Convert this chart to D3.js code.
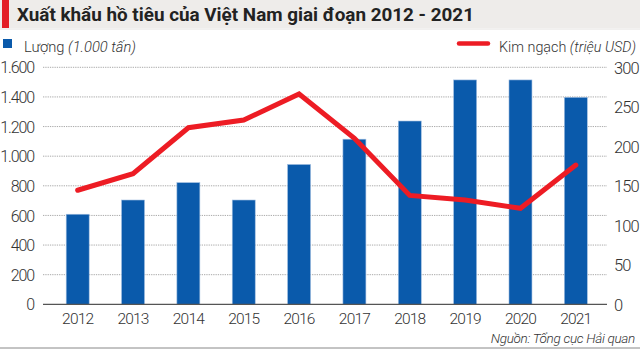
<!DOCTYPE html>
<html>
<head>
<meta charset="utf-8">
<script src="https://cdn.jsdelivr.net/npm/d3@7/dist/d3.min.js"></script>
<style>
  html, body { margin: 0; padding: 0; background: #fff; }
  svg { display: block; }
  text { font-family: Roboto, "Liberation Sans", sans-serif; }
</style>
</head>
<body>
<svg id="chart" width="640" height="349"></svg>
<script>
// Pepper exports of Vietnam, 2012–2021
const years = ["2012","2013","2014","2015","2016","2017","2018","2019","2020","2021"];
// volume, thousand tonnes (bars, right axis)
const volume = [114, 132, 154, 132, 177, 209, 232, 284, 284, 262];
// export value, million USD (line, left axis)
const value = [770, 882, 1192, 1244, 1420, 1121, 735, 704, 648, 940];
const leftTicks = [0, 200, 400, 600, 800, 1000, 1200, 1400, 1600];
const rightTicks = [0, 50, 100, 150, 200, 250, 300];

const svg = d3.select("#chart");
const fmt = d => d3.format(",")(d).replace(/,/g, ".");

const gridLeft = 43, gridRight = 607;
const x = d3.scaleBand().domain(years).range([50, 603.5]).paddingInner(0.585).paddingOuter(0.2925);
const yL = d3.scaleLinear().domain([0, 1600]).range([304.3, 67.3]);
const yR = d3.scaleLinear().domain([0, 300]).range([304.3, 67.3]);

// title band
svg.append("rect").attr("x", 0).attr("y", 0).attr("width", 640).attr("height", 28).attr("fill", "#eeecea");
svg.append("rect").attr("x", 2).attr("y", 0).attr("width", 7).attr("height", 28).attr("fill", "#e31e26");
svg.append("line").attr("x1", 0).attr("x2", 640).attr("y1", 29).attr("y2", 29).attr("stroke", "#e4e2e0").attr("stroke-width", 1);
svg.append("text").attr("x", 17).attr("y", 20.5)
  .attr("font-size", 18.5).attr("font-weight", 700).attr("fill", "#222")
  .attr("textLength", 457).attr("lengthAdjust", "spacingAndGlyphs")
  .text("Xuất khẩu hồ tiêu của Việt Nam giai đoạn 2012 - 2021");

// legend
svg.append("rect").attr("x", 3).attr("y", 39).attr("width", 9).attr("height", 9).attr("fill", "#0a5aab");
const l1 = svg.append("text").attr("x", 24).attr("y", 51.5).attr("font-size", 15).attr("font-weight", 300).attr("fill", "#333")
  .attr("textLength", 112).attr("lengthAdjust", "spacingAndGlyphs");
l1.append("tspan").text("Lượng ");
l1.append("tspan").attr("font-style", "italic").text("(1.000 tấn)");

svg.append("line").attr("x1", 459).attr("x2", 488).attr("y1", 43.5).attr("y2", 43.5)
  .attr("stroke", "#ed1c24").attr("stroke-width", 4.5).attr("stroke-linecap", "round");
const l2 = svg.append("text").attr("x", 499).attr("y", 51.5).attr("font-size", 15).attr("font-weight", 300).attr("fill", "#333")
  .attr("textLength", 137).attr("lengthAdjust", "spacingAndGlyphs");
l2.append("tspan").text("Kim ngạch ");
l2.append("tspan").attr("font-style", "italic").text("(triệu USD)");

// gridlines
svg.append("g").selectAll("line").data(leftTicks.filter(d => d > 0)).join("line")
  .attr("x1", gridLeft).attr("x2", gridRight)
  .attr("y1", d => yL(d)).attr("y2", d => yL(d))
  .attr("stroke", "#aaa").attr("stroke-width", 1).attr("stroke-dasharray", "1.3,1");

// left axis
const axL = svg.append("g").attr("transform", `translate(${gridLeft},0)`)
  .call(d3.axisLeft(yL).tickValues(leftTicks).tickFormat(fmt).tickSize(0).tickPadding(9));
axL.select(".domain").remove();
axL.selectAll("text").attr("font-size", 16).attr("font-weight", 300).attr("fill", "#333")
  .attr("letter-spacing", -1.1).attr("font-family", "Roboto, sans-serif").attr("dy", "0.35em");

// right axis
const axR = svg.append("g").attr("transform", `translate(${gridRight},0)`)
  .call(d3.axisRight(yR).tickValues(rightTicks).tickSize(0).tickPadding(7));
axR.select(".domain").remove();
axR.selectAll("text").attr("font-size", 16.5).attr("font-weight", 300).attr("fill", "#333")
  .attr("letter-spacing", -0.9).attr("font-family", "Roboto, sans-serif").attr("dy", "0.35em");

// bars
svg.append("g").selectAll("rect").data(years).join("rect")
  .attr("x", d => x(d)).attr("width", x.bandwidth())
  .attr("y", (d, i) => yR(volume[i]))
  .attr("height", (d, i) => yR(0) - yR(volume[i]))
  .attr("fill", "#0a5aab").attr("stroke", "#9fbde0").attr("stroke-width", 0.6);

// baseline
svg.append("line").attr("x1", gridLeft).attr("x2", gridRight)
  .attr("y1", yL(0)).attr("y2", yL(0)).attr("stroke", "#555").attr("stroke-width", 1.2);

// x axis labels
const axX = svg.append("g").attr("transform", `translate(0,${yL(0)})`)
  .call(d3.axisBottom(x).tickSize(0).tickPadding(9));
axX.select(".domain").remove();
axX.selectAll("text").attr("font-size", 15.5).attr("font-weight", 300).attr("fill", "#333")
  .attr("letter-spacing", -0.8).attr("font-family", "Roboto, sans-serif");

// value line
const line = d3.line()
  .x((d, i) => x(years[i]) + x.bandwidth() / 2)
  .y(d => yL(d));
svg.append("path").datum(value).attr("d", line)
  .attr("fill", "none").attr("stroke", "#ed1c24").attr("stroke-width", 5)
  .attr("stroke-linecap", "round").attr("stroke-linejoin", "miter");

// source
svg.append("text").attr("x", 635).attr("y", 342.5).attr("text-anchor", "end")
  .attr("font-size", 13.5).attr("font-style", "italic").attr("font-weight", 300).attr("fill", "#333")
  .attr("letter-spacing", -0.3)
  .text("Nguồn: Tổng cục Hải quan");
svg.append("line").attr("x1", 0).attr("x2", 640).attr("y1", 348).attr("y2", 348)
  .attr("stroke", "#888").attr("stroke-width", 1);
</script>
</body>
</html>
